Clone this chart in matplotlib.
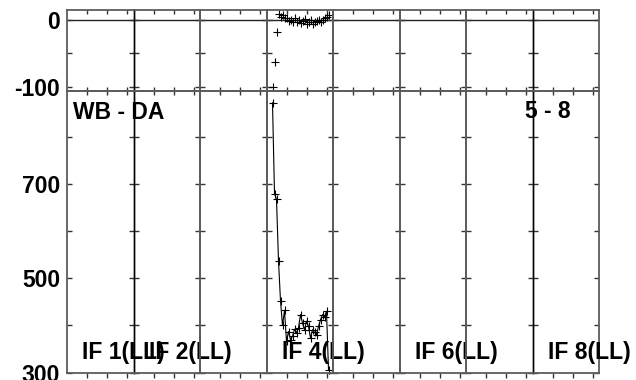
import matplotlib
matplotlib.use('Agg')
import matplotlib.pyplot as plt

plt.rcParams['font.family'] = ['Liberation Sans', 'DejaVu Sans']
plt.rcParams['font.weight'] = 'bold'

# ---------------- data ----------------
n_panels = 8
panel_width = 33.25
x_ticks = [10, 20, 30]
if_labels = ['IF 1(LL)', 'IF 2(LL)', '', 'IF 4(LL)', '', 'IF 6(LL)', '', 'IF 8(LL)']
data_panel = 3
channels = [3, 4, 5, 6, 7, 8, 9, 10, 11, 12, 13, 14, 15, 16, 17, 18, 19, 20,
            21, 22, 23, 24, 25, 26, 27, 28, 29, 30, 31]
amplitude = [873, 680, 668, 537, 452, 400, 432, 366, 387, 370, 377, 392, 384,
             395, 423, 405, 391, 409, 398, 373, 391, 385, 380, 398, 412, 423,
             418, 430, 306]
phase = [-100, -63, -18, 8, 4, 6, 2, 3, -2, 0, -4, 2, -3, -1, -5, -2, 1, -6,
         -3, 0, -7, -4, -2, -1, -3, 0, 2, 4, 6]
phase_ticks = [-100, -50, 0]
phase_tick_labels = ['-100', '', '0']
phase_lim = (-106.7, 14.2)
amp_ticks = [300, 400, 500, 600, 700, 800]
amp_tick_labels = ['300', '', '500', '', '700', '']
amp_lim = (300, 898)
title_left = 'WB - DA'
title_right = '5 - 8'

# ---------------- layout ----------------
W, H = 636, 380
fig = plt.figure(figsize=(W / 100, H / 100), dpi=100)
px = 0.72  # points per pixel

x0, x1 = 67, 599
y_top, y_mid, y_bot = 10, 91, 372.5
pw = (x1 - x0) / n_panels / W

FS = 16.5
grey = '#5c5c5c'

top_axes, bot_axes = [], []
for c in range(n_panels):
    left = x0 / W + c * pw
    at = fig.add_axes([left, 1 - y_mid / H, pw, (y_mid - y_top) / H])
    ab = fig.add_axes([left, 1 - y_bot / H, pw, (y_bot - y_mid) / H])
    top_axes.append(at)
    bot_axes.append(ab)
    for ax, lim, ticks, labels in ((at, phase_lim, phase_ticks, phase_tick_labels),
                                   (ab, amp_lim, amp_ticks, amp_tick_labels)):
        ax.set_xlim(0, panel_width)
        ax.set_ylim(*lim)
        ax.set_xticks(x_ticks)
        ax.set_xticklabels([])
        ax.set_yticks(ticks)
        if c == 0:
            ax.set_yticklabels(labels, fontsize=FS, fontweight='bold')
        else:
            ax.set_yticklabels([])
        ax.tick_params(axis='y', left=True, right=True, direction='in',
                       length=5 * px, width=1.0, color='#333333', pad=7 * px)
        for s in ax.spines.values():
            s.set_color(grey)
            s.set_linewidth(1.3)
        ax.patch.set_alpha(0)
    # x ticks
    at.tick_params(axis='x', bottom=True, top=False, direction='inout',
                   length=8 * px, width=1.0, color='#333333')
    sec = at.secondary_xaxis('top')
    sec.set_xticks(x_ticks)
    sec.set_xticklabels([])
    sec.tick_params(direction='in', length=4 * px, width=1.0, color='#333333')
    sec.spines['top'].set_visible(False)
    ab.tick_params(axis='x', bottom=True, top=False, direction='out',
                   length=5 * px, width=1.0, color='#333333')
    # zero line
    at.axhline(0, color='#222222', lw=1.0, zorder=1)
    # IF label
    if if_labels[c]:
        ab.annotate(if_labels[c], xy=(0, 0), xycoords='axes fraction',
                    xytext=(15.5 * px, 13.5 * px), textcoords='offset points',
                    ha='left', va='baseline', fontsize=FS, fontweight='bold',
                    annotation_clip=False)

# black dividers
for c in (0, 6):
    for ax in (top_axes[c], bot_axes[c]):
        ax.spines['right'].set_color('black')
        ax.spines['right'].set_linewidth(1.0)
    for ax in (top_axes[c + 1], bot_axes[c + 1]):
        ax.spines['left'].set_color('black')
        ax.spines['left'].set_linewidth(1.0)

# data
at = top_axes[data_panel]
ab = bot_axes[data_panel]
at.plot(channels, phase, linestyle='none', marker='+', color='black',
        markersize=5.5, markeredgewidth=0.8, clip_on=False)
ab.plot(channels, amplitude, linestyle='-', lw=0.8, marker='+', color='black',
        markersize=5.5, markeredgewidth=0.8, clip_on=False)

# titles
bot_axes[0].annotate(title_left, xy=(0, 1), xycoords='axes fraction',
                     xytext=(6 * px, -28 * px), textcoords='offset points',
                     ha='left', va='baseline', fontsize=FS, fontweight='bold')
bot_axes[7].annotate(title_right, xy=(0, 1), xycoords='axes fraction',
                     xytext=(-7.5 * px, -27.3 * px), textcoords='offset points',
                     ha='left', va='baseline', fontsize=FS, fontweight='bold')

fig.savefig('out.png', dpi=100)
